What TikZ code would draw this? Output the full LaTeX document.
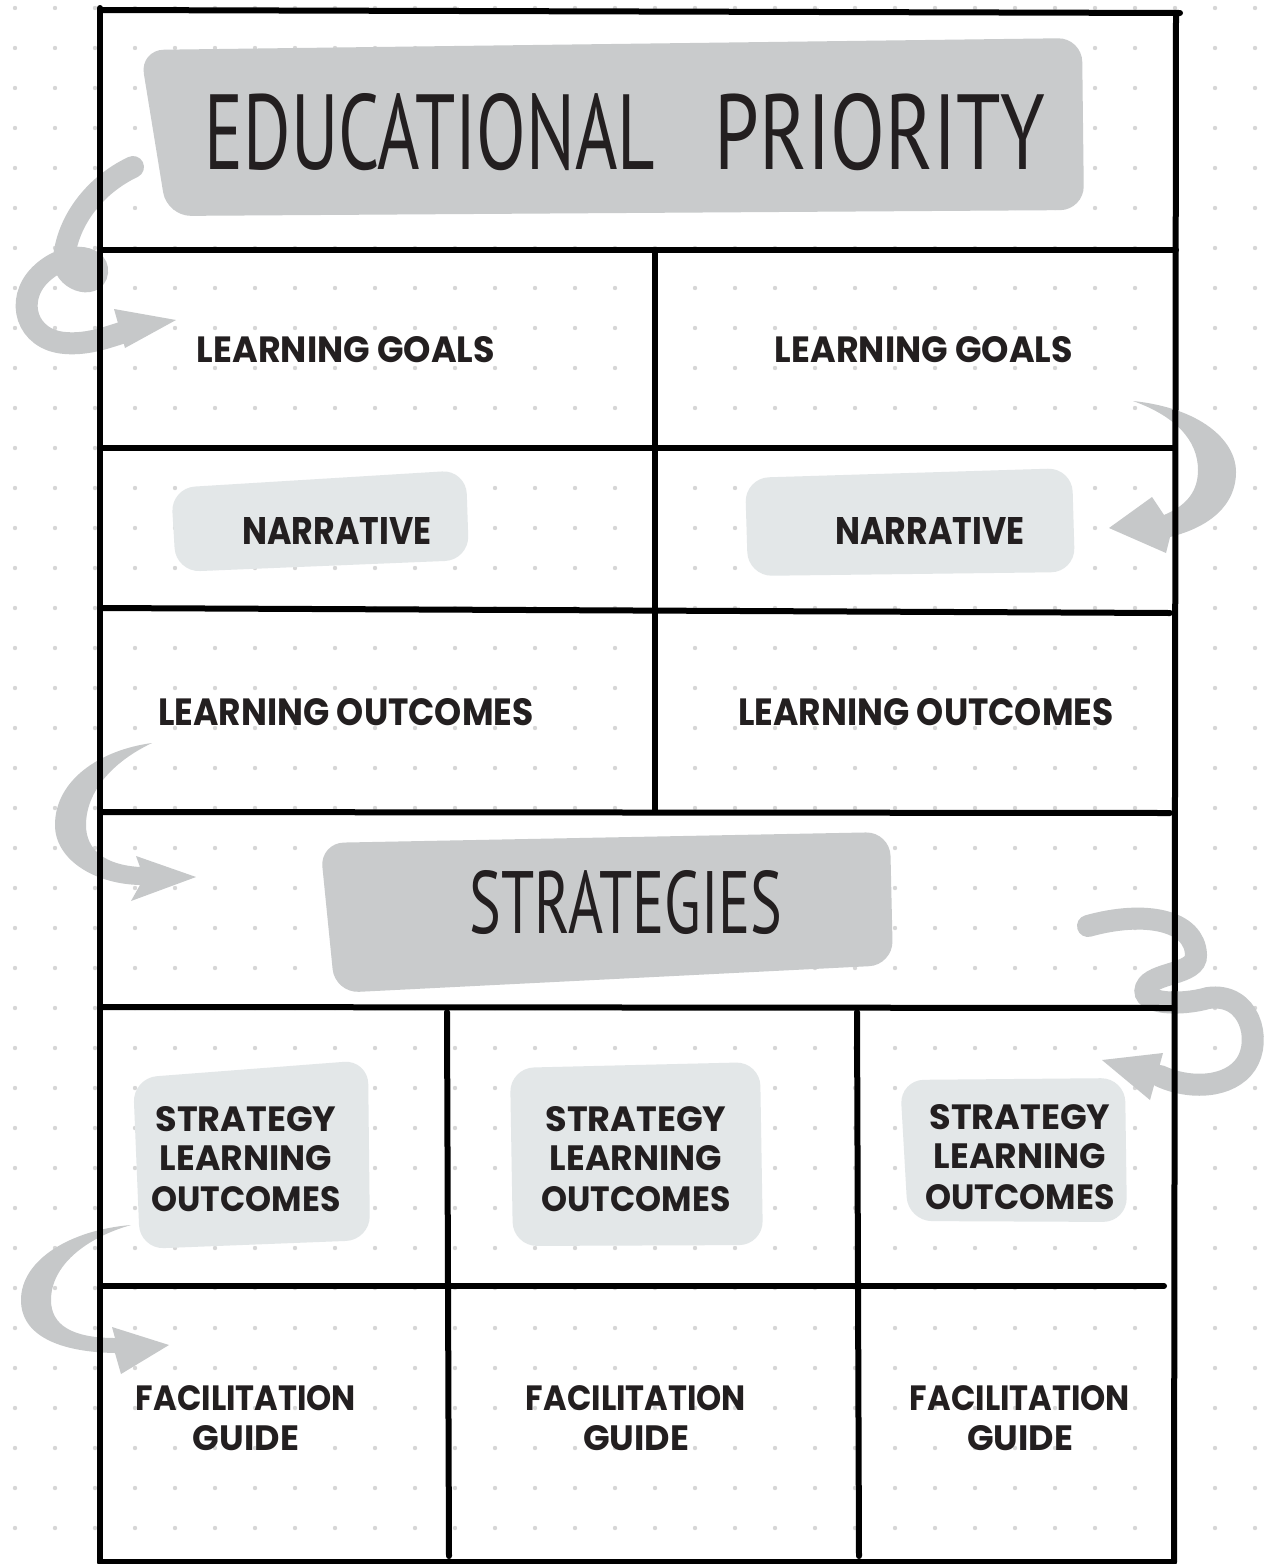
\documentclass[tikz,border=0pt]{standalone}
\usepackage{fontspec}
\usepackage{graphicx}
\newfontfamily\labfont{Poppins}
\newfontfamily\titfont{PT Sans}
\definecolor{dotgray}{HTML}{D6D6D6}
\definecolor{boxgray}{HTML}{C9CBCC}
\definecolor{lightbox}{HTML}{E3E7E8}
\definecolor{arrowgray}{HTML}{C6C8C9}
\definecolor{ink}{HTML}{231F20}
\newcommand{\fitlab}[3]{\resizebox{#1pt}{#2pt}{\labfont\bfseries #3}}
\newcommand{\fittit}[3]{\resizebox{#1pt}{#2pt}{\titfont #3}}
\begin{document}
\begin{tikzpicture}[x=1pt,y=-1pt,
  frameline/.style={line width=6pt, draw=black, line cap=round},
  darkbox/.style={fill=boxgray, rounded corners=24pt},
  lightpad/.style={fill=lightbox, rounded corners=24pt},
  swline/.style={draw=arrowgray, line width=22pt, line cap=round},
  swfill/.style={fill=arrowgray},
  lbl/.style={inner sep=0pt, text=ink, anchor=center}]
\useasboundingbox (0,0) rectangle (1266,1564);
\fill[white] (0,0) rectangle (1266,1564);
% dot grid
\foreach \i in {0,...,31}{
  \foreach \j in {0,...,38}{
    \fill[dotgray] (15+40*\i, 8+40*\j) circle (2.2pt);
  }
}
% grey pads
\fill[darkbox] (140,50) -- (1082,38) -- (1084,210) -- (167,216) -- cycle;
\fill[darkbox] (320,843) -- (890,832) -- (893,965) -- (335,993) -- cycle;
\fill[lightpad] (171,488) -- (466,470) -- (469,560) -- (176,572) -- cycle;
\fill[lightpad] (745,478) -- (1072,468) -- (1075,572) -- (748,576) -- cycle;
\fill[lightpad] (133,1078) -- (368,1060) -- (370,1240) -- (140,1249) -- cycle;
\fill[lightpad] (510,1068) -- (760,1062) -- (763,1245) -- (513,1246) -- cycle;
\fill[lightpad] (900,1080) -- (1125,1078) -- (1127,1222) -- (908,1221) -- cycle;
% swoosh arrows
% 1: top-left loop
\draw[swline] (133,167) .. controls (95,185) and (68,220) .. (64,258)
  .. controls (62,280) and (95,290) .. (97,272)
  .. controls (99,255) and (65,250) .. (40,275)
  .. controls (15,300) and (26,340) .. (65,343)
  .. controls (90,345) and (110,336) .. (128,331);
\fill[swfill] (114,309) -- (176,320) -- (125,348) -- cycle;
% 2: right, learning goals -> narrative
\fill[swfill] (1133,401) .. controls (1200,408) and (1236,440) .. (1236,472)
  .. controls (1236,505) and (1210,527) .. (1170,537)
  -- (1166,553) -- (1109,528) -- (1152,497) -- (1164,515)
  .. controls (1188,505) and (1198,490) .. (1198,470)
  .. controls (1198,440) and (1175,416) .. (1133,401) -- cycle;
% 3: left, outcomes -> strategies
\fill[swfill] (152,743) .. controls (100,750) and (55,780) .. (55,825)
  .. controls (55,860) and (95,884) .. (140,885)
  -- (131,901) -- (196,877) -- (136,856) -- (140,867)
  .. controls (105,865) and (86,850) .. (86,825)
  .. controls (86,792) and (112,762) .. (152,743) -- cycle;
% 4: right loop, strategies -> strategy outcomes
\draw[swline] (1088,926) .. controls (1145,910) and (1195,920) .. (1196,955)
  .. controls (1197,975) and (1152,972) .. (1146,988)
  .. controls (1140,1004) and (1180,1006) .. (1208,998)
  .. controls (1250,992) and (1262,1040) .. (1246,1064)
  .. controls (1230,1088) and (1190,1090) .. (1160,1076);
\fill[swfill] (1102,1060) -- (1163,1053) -- (1150,1100) -- cycle;
% 5: bottom-left
\fill[swfill] (131,1225) .. controls (70,1230) and (21,1260) .. (21,1300)
  .. controls (21,1336) and (60,1352) .. (115,1353)
  -- (121,1374) -- (169,1345) -- (112,1327) -- (115,1338)
  .. controls (72,1338) and (51,1325) .. (51,1300)
  .. controls (51,1266) and (85,1238) .. (131,1225) -- cycle;
% frame lines
\draw[frameline] (100,10) -- (1180,13);
\draw[frameline] (100,8) -- (100,1562);
\draw[frameline] (1176,13) -- (1174,1562);
\draw[frameline] (100,1562) -- (1174,1562);
\draw[frameline] (100,250) -- (1176,250);
\draw[frameline] (100,448) -- (1174,448);
\draw[frameline] (100,608) -- (1170,613);
\draw[frameline] (100,812) -- (1170,813);
\draw[frameline] (100,1007) -- (1174,1008);
\draw[frameline] (100,1286) -- (1164,1286);
\draw[frameline] (655,252) -- (655,810);
\draw[frameline] (447,1012) -- (449,1556);
\draw[frameline] (857,1012) -- (859,1556);
% titles
\node[lbl] (t1) at (430,132) {\fittit{450}{76}{EDUCATIONAL}};
\node[lbl] (t2) at (880,132) {\fittit{330}{76}{PRIORITY}};
\node[lbl] (st) at (626,903) {\fittit{313}{63}{STRATEGIES}};
% labels
\node[lbl] (lg1) at (346,350) {\fitlab{298}{26}{LEARNING GOALS}};
\node[lbl] (lg2) at (924,350) {\fitlab{298}{26}{LEARNING GOALS}};
\node[lbl] (n1) at (337,531) {\fitlab{189}{27}{NARRATIVE}};
\node[lbl] (n2) at (930,531) {\fitlab{189}{27}{NARRATIVE}};
\node[lbl] (lo1) at (346,712) {\fitlab{375}{27}{LEARNING OUTCOMES}};
\node[lbl] (lo2) at (926,712) {\fitlab{375}{27}{LEARNING OUTCOMES}};
\foreach \cx/\dy/\nm in {246/0/a, 636/0/b, 1020/-2/c}{
  \node[lbl] (s\nm1) at (\cx,1119+\dy) {\fitlab{181}{25}{STRATEGY}};
  \node[lbl] (s\nm2) at (\cx,1158+\dy) {\fitlab{172}{25}{LEARNING}};
  \node[lbl] (s\nm3) at (\cx,1199+\dy) {\fitlab{189}{25}{OUTCOMES}};
  \node[lbl] (f\nm1) at (\cx,1398) {\fitlab{220}{25}{FACILITATION}};
  \node[lbl] (f\nm2) at (\cx,1438) {\fitlab{106}{25}{GUIDE}};
}
\end{tikzpicture}
\end{document}
